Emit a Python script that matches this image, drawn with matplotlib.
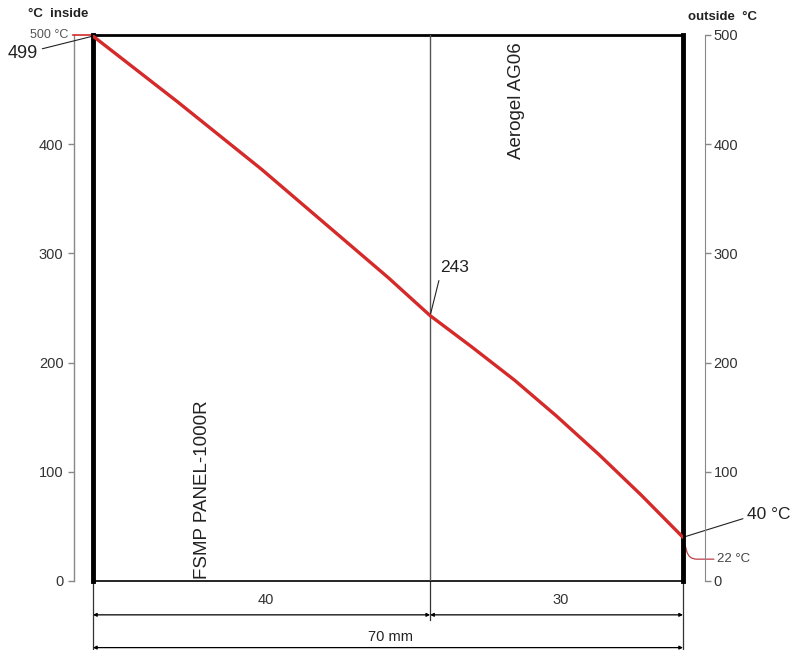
import numpy as np
import matplotlib.pyplot as plt

plt.rcParams['font.family'] = ['Liberation Sans', 'DejaVu Sans']

# temperature profile through the wall (distance in mm from the hot side)
depth_mm = [0, 5, 10, 15, 20, 25, 30, 35, 40, 45, 50, 55, 60, 65, 70]
temp_c = [499, 469, 439, 408, 377, 344, 311, 278, 243, 214, 184, 151, 116, 79, 40]

layer_names = ['FSMP PANEL-1000R', 'Aerogel AG06']
layer_mm = [40, 30]
total_mm = 70
y_ticks = [0, 100, 200, 300, 400, 500]

fig = plt.figure(figsize=(7.98, 6.5), dpi=100)
ax = fig.add_axes([93 / 798, 69 / 650, 590 / 798, 546 / 650])
ax.set_xlim(0, total_mm)
ax.set_ylim(0, 500)

# frame: thick outer faces, thin layer boundary
ax.spines['right'].set_visible(False)
ax.spines['top'].set_linewidth(2)
ax.spines['bottom'].set_linewidth(1.2)
ax.spines['left'].set_position(('outward', 13.7))
ax.spines['left'].set_color('#888888')
ax.spines['left'].set_linewidth(1)
ax.axvline(0, color='black', lw=3.5, clip_on=False, zorder=4)
ax.axvline(total_mm, color='black', lw=3.5, clip_on=False, zorder=4)
ax.axvline(layer_mm[0], color='#555555', lw=1, zorder=3)

ax.set_xticks([])
# top of the inside scale is labelled by the "500 °C" callout
ax.set_yticks(y_ticks[:-1])
ax.tick_params(axis='y', length=4.5, width=1, color='#888888', labelsize=10.5,
               labelcolor='#333333', pad=3)

ax2 = ax.twinx()
ax2.set_ylim(0, 500)
for s in ['top', 'bottom', 'left']:
    ax2.spines[s].set_visible(False)
ax2.spines['right'].set_position(('outward', 16))
ax2.spines['right'].set_color('#888888')
ax2.set_yticks(y_ticks)
ax2.tick_params(axis='y', length=4, width=1, color='#888888', labelsize=10.5,
                labelcolor='#333333', pad=2)

ax.plot(depth_mm, temp_c, color='#d42a2a', lw=2.4, zorder=5, solid_capstyle='round')

# layer names
ax.text(13, 84, layer_names[0], rotation=90, ha='center', va='center', fontsize=13.5, color='#222222')
ax.text(50.2, 440, layer_names[1], rotation=90, ha='center', va='center', fontsize=13.5, color='#222222')

# value callouts
ax.annotate('499', xy=(0, 499), xytext=(-6.5, 483), ha='right', va='center', fontsize=13,
            color='#222222', annotation_clip=False,
            arrowprops=dict(arrowstyle='-', color='#222222', lw=0.8, shrinkA=1, shrinkB=0))
ax.annotate('500 °C', xy=(0, 500), xytext=(-2.9, 500), ha='right', va='center', fontsize=9,
            color='#555555', annotation_clip=False,
            arrowprops=dict(arrowstyle='-', color='#d42a2a', lw=1.2, shrinkA=1, shrinkB=0))
ax.annotate('243', xy=(layer_mm[0], temp_c[depth_mm.index(40)]), xytext=(41.2, 287), ha='left',
            va='center', fontsize=12.5, color='#222222',
            arrowprops=dict(arrowstyle='-', color='#222222', lw=0.8, shrinkA=2, shrinkB=0,
                            relpos=(0, 0)))
ax.annotate('40 °C', xy=(total_mm, temp_c[-1]), xytext=(77.6, 61), ha='left', va='center',
            fontsize=12.5, color='#222222', annotation_clip=False,
            arrowprops=dict(arrowstyle='-', color='#222222', lw=0.8, shrinkA=1, shrinkB=0,
                            relpos=(0, 0.3)))
ax.annotate('22 °C', xy=(total_mm, temp_c[-1]), xytext=(74.0, 20), ha='left', va='center',
            fontsize=9.5, color='#444444', annotation_clip=False,
            arrowprops=dict(arrowstyle='-', color='#c0404a', lw=0.9, shrinkA=0, shrinkB=0,
                            relpos=(0, 0.5),
                            connectionstyle='angle,angleA=180,angleB=-75,rad=8'))

# dimension lines under the frame
for x, y_end in [(0, -63), (layer_mm[0], -36), (total_mm, -63)]:
    ax.plot([x, x], [0, y_end], color='#333333', lw=0.9, clip_on=False)

dim = dict(arrowstyle='<|-|>', mutation_scale=5, lw=0.9, color='black', shrinkA=0, shrinkB=0)
ax.annotate('', xy=(0, -31), xytext=(layer_mm[0], -31), arrowprops=dim, annotation_clip=False)
ax.annotate('', xy=(layer_mm[0], -31), xytext=(total_mm, -31), arrowprops=dim, annotation_clip=False)
ax.annotate('', xy=(0, -61), xytext=(total_mm, -61), arrowprops=dim, annotation_clip=False)
ax.text(layer_mm[0] / 2 + 0.5, -17, str(layer_mm[0]), ha='center', va='center', fontsize=10.5, color='#333333')
ax.text(layer_mm[0] + layer_mm[1] / 2 + 0.5, -17, str(layer_mm[1]), ha='center', va='center', fontsize=10.5, color='#333333')
ax.text(35.3, -51, f'{total_mm} mm', ha='center', va='center', fontsize=10.5, color='#222222')

# side headers
fig.text(58 / 798, 1 - 14 / 650, '°C  inside', ha='center', va='center', fontsize=9.5,
         fontweight='bold', color='#222222')
fig.text(722 / 798, 1 - 17 / 650, 'outside  °C', ha='center', va='center', fontsize=9.5,
         fontweight='bold', color='#222222')

fig.savefig('out.png', dpi=100)
